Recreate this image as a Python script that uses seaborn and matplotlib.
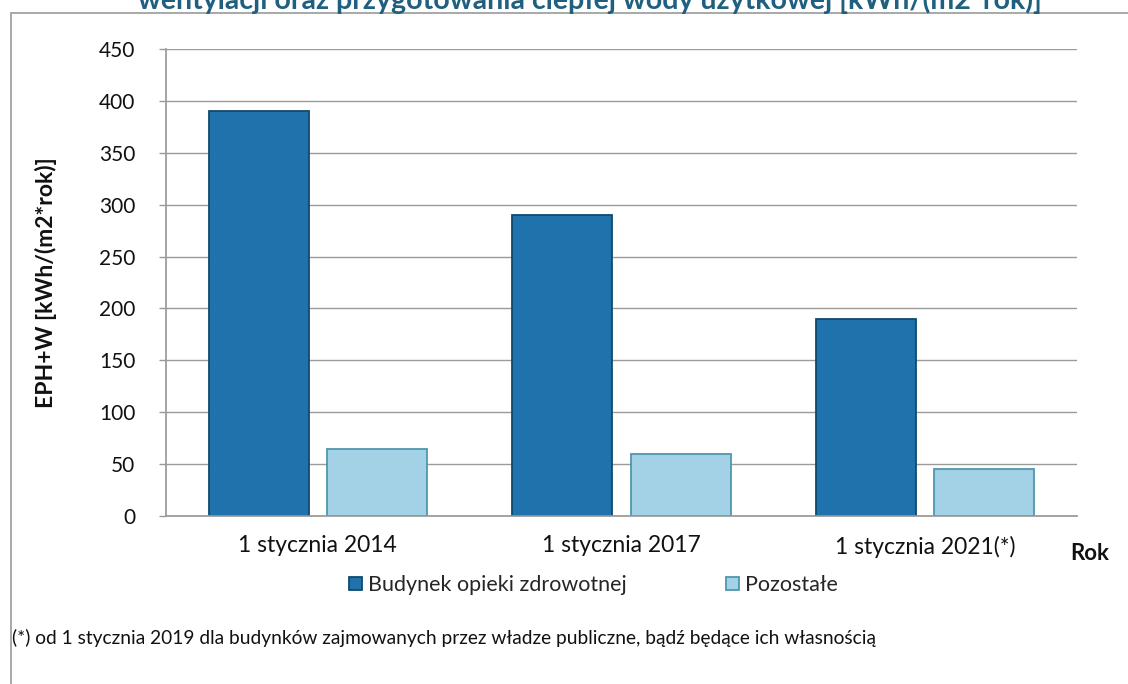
import matplotlib
matplotlib.use("Agg")
import matplotlib.pyplot as plt
import seaborn as sns
import pandas as pd
from matplotlib.patches import Rectangle

categories = ["1 stycznia 2014", "1 stycznia 2017", "1 stycznia 2021(*)"]
series_names = ["Budynek opieki zdrowotnej", "Pozostałe"]
values_zdrowie = [390, 290, 190]
values_pozostale = [65, 60, 45]
yticks = [0, 50, 100, 150, 200, 250, 300, 350, 400, 450]

title = "wentylacji oraz przygotowania ciepłej wody użytkowej [kWh/(m2*rok)]"
ylabel = "EPH+W [kWh/(m2*rok)]"
xlabel = "Rok"
footnote = "(*) od 1 stycznia 2019 dla budynków zajmowanych przez władze publiczne, bądź będące ich własnością"

df = pd.DataFrame({
    "kat": categories * 2,
    "seria": [series_names[0]] * 3 + [series_names[1]] * 3,
    "val": values_zdrowie + values_pozostale,
})

sns.set_theme(style="white")
plt.rcParams["font.family"] = ["Lato", "DejaVu Sans"]

fig = plt.figure(figsize=(11.28, 6.84), dpi=100)
ax = fig.add_axes([0.1472, 0.2456, 0.9548 - 0.1472, 0.9284 - 0.2456])

palette = {series_names[0]: "#1f72ab", series_names[1]: "#a3d2e6"}
sns.barplot(data=df, x="kat", y="val", hue="seria", palette=palette,
            saturation=1, width=0.78, gap=0.154, ax=ax,
            edgecolor="#0f4a6e", linewidth=1.3, legend=True)
for bar in ax.patches:
    fc = bar.get_facecolor()
    if fc[0] > 0.5:
        bar.set_edgecolor("#4f97b0")

ax.set_ylim(0, 450)
ax.set_yticks(yticks)
ax.set_yticklabels([str(v) for v in yticks], fontsize=15, color="#111111")
ax.set_xlim(-0.5, 2.5)
ax.tick_params(axis="x", labelsize=16.5, colors="#111111", length=0, pad=14)
ax.tick_params(axis="y", length=5, width=1, color="#999999", left=True, pad=17)
ax.yaxis.grid(True, color="#9a9a9a", linewidth=1)
ax.set_axisbelow(True)
for s in ["top", "right"]:
    ax.spines[s].set_visible(False)
ax.spines["left"].set_color("#999999")
ax.spines["bottom"].set_color("#999999")
ax.set_xlabel("")
ax.set_ylabel(ylabel, fontsize=16.5, fontweight="bold", labelpad=30, color="#111111")

leg = ax.legend(loc="center", bbox_to_anchor=(0.469, -0.148), ncol=2, frameon=False,
                fontsize=15.5, handlelength=0.6, handleheight=0.6, handletextpad=0.3,
                columnspacing=4.6)

fig.text(1090 / 1128, 1 - 553 / 684, xlabel, fontsize=16, fontweight="bold",
         ha="center", va="center", color="#111111")
fig.text(12 / 1128, 1 - 638 / 684, footnote, fontsize=13.8, ha="left", va="center",
         color="#111111")
fig.text(590 / 1128, 1 - 9 / 684, title, fontsize=20.5, fontweight="bold",
         ha="center", va="baseline", color="#1f5f80")

fig.patches.append(Rectangle((11 / 1128, -0.1), 1.2, 1 - 13 / 684 + 0.1,
                             transform=fig.transFigure, fill=False,
                             edgecolor="#9a9a9a", linewidth=1.2))

fig.savefig("out.png", dpi=100)
